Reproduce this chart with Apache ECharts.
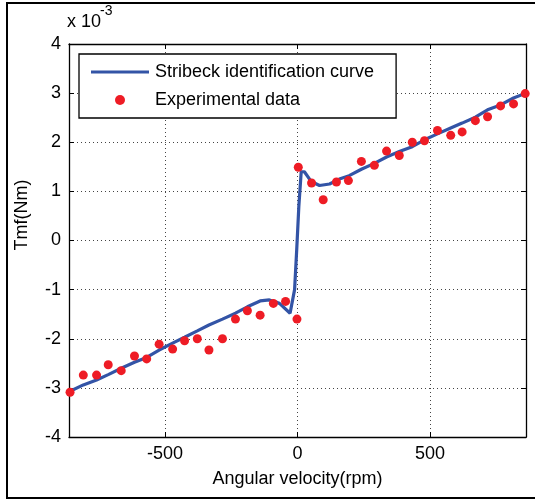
<!DOCTYPE html>
<html>
<head>
<meta charset="utf-8">
<script src="https://cdn.jsdelivr.net/npm/echarts@6/dist/echarts.min.js"></script>
<style>
html,body{margin:0;padding:0;background:#fff;}
#c{width:535px;height:502px;}
</style>
</head>
<body>
<div id="c"></div>
<script>
// Experimental data (angular velocity rpm, torque x1e-3 Nm)
var expX = [-858,-808,-758,-714,-665,-615,-569,-522,-471,-426,-378,-334,-283,-234,-189,-141,-91,-45,-2,
            3,53,97,147,192,241,290,336,384,433,479,528,578,621,671,717,766,815,859];
var expY = [-3.09,-2.74,-2.74,-2.53,-2.65,-2.35,-2.41,-2.11,-2.21,-2.04,-2.00,-2.23,-2.00,-1.60,-1.43,-1.52,-1.28,-1.24,-1.60,
            1.49,1.17,0.83,1.19,1.22,1.61,1.53,1.82,1.73,2.00,2.03,2.24,2.14,2.21,2.44,2.52,2.74,2.78,2.99];
// Stribeck identification curve
var curveX = [-862,-808,-758,-714,-665,-615,-569,-522,-471,-426,-378,-334,-283,-234,-189,-141,-106,-68,-28,-11,-3,5,14,26,52,83,121,158,195,241,290,336,384,433,479,528,578,621,671,717,766,815,862];
var curveY = [-3.08,-2.94,-2.84,-2.73,-2.60,-2.48,-2.38,-2.23,-2.09,-1.97,-1.84,-1.72,-1.60,-1.48,-1.35,-1.23,-1.21,-1.28,-1.48,-1.0,-0.19,0.69,1.40,1.40,1.20,1.12,1.15,1.25,1.32,1.45,1.57,1.70,1.81,1.91,2.05,2.17,2.29,2.39,2.51,2.66,2.76,2.90,3.00];
var xTicks = [-500, 0, 500];
var yMin = -4, yMax = 4;
var seriesNames = ['Stribeck identification curve', 'Experimental data'];

function zip(a, b) { return a.map(function (v, i) { return [v, b[i]]; }); }

var FONT = 'Liberation Sans, Arial, sans-serif';
var gridLine = { color: '#444', width: 1, type: [1, 3] };
var BLUE = '#3354A6', RED = '#EE1C25';

var chart = echarts.init(document.getElementById('c'), null, { renderer: 'canvas' });
chart.setOption({
  backgroundColor: '#fff',
  animation: false,
  grid: { left: 69, right: 9, top: 44, bottom: 65 },
  xAxis: [{
    type: 'value', min: -862, max: 862, position: 'bottom',
    axisLine: { show: true, onZero: false, lineStyle: { color: '#000', width: 1.3 } },
    axisTick: { show: true, inside: true, length: 5, customValues: xTicks, lineStyle: { color: '#000' } },
    axisLabel: { customValues: xTicks, fontSize: 18, color: '#000', margin: 8, fontFamily: FONT },
    splitLine: { show: true, lineStyle: gridLine },
    name: 'Angular velocity(rpm)', nameLocation: 'middle', nameGap: 33,
    nameTextStyle: { fontSize: 18, color: '#000', fontFamily: FONT }
  }, {
    type: 'value', min: -862, max: 862, position: 'top',
    axisLine: { show: true, onZero: false, lineStyle: { color: '#000', width: 1.3 } },
    axisTick: { show: true, inside: true, length: 5, customValues: xTicks, lineStyle: { color: '#000' } },
    axisLabel: { show: false, customValues: xTicks },
    splitLine: { show: false }
  }],
  yAxis: [{
    type: 'value', min: yMin, max: yMax, interval: 1, position: 'left',
    axisLine: { show: true, onZero: false, lineStyle: { color: '#000', width: 1.3 } },
    axisTick: { show: true, inside: true, length: 5, lineStyle: { color: '#000' } },
    axisLabel: { fontSize: 18, color: '#000', margin: 8, fontFamily: FONT },
    splitLine: { show: true, lineStyle: gridLine }
  }, {
    type: 'value', min: yMin, max: yMax, interval: 1, position: 'right',
    axisLine: { show: true, onZero: false, lineStyle: { color: '#000', width: 1.3 } },
    axisTick: { show: true, inside: true, length: 5, lineStyle: { color: '#000' } },
    axisLabel: { show: false },
    splitLine: { show: false }
  }],
  legend: {
    orient: 'vertical', left: 79, top: 54,
    padding: [9, 22, 9, 12],
    itemWidth: 58, itemHeight: 10, itemGap: 10,
    backgroundColor: '#fff', borderColor: '#000', borderWidth: 1.3, borderRadius: 0,
    textStyle: { fontSize: 18, color: '#000', fontFamily: FONT, padding: [0, 0, 0, 1] },
    data: [
      { name: seriesNames[0], icon: 'path://M0 0H60V3H0Z', itemStyle: { color: BLUE } },
      { name: seriesNames[1], icon: 'circle', itemStyle: { color: RED } }
    ]
  },
  series: [{
    name: seriesNames[0], type: 'line', data: zip(curveX, curveY),
    symbol: 'none', smooth: false,
    lineStyle: { color: BLUE, width: 3.2 }, itemStyle: { color: BLUE },
    z: 3
  }, {
    name: seriesNames[1], type: 'scatter', data: zip(expX, expY),
    symbol: 'circle', symbolSize: 9,
    itemStyle: { color: RED, opacity: 1 },
    z: 4
  }],
  graphic: [
    { type: 'rect', shape: { x: 7, y: 3, width: 560, height: 495 }, style: { fill: 'none', stroke: '#000', lineWidth: 2 }, silent: true, z: 100 },
    { type: 'text', x: 22, y: 215, rotation: Math.PI / 2, style: { text: 'Tmf(Nm)', fontSize: 18, fontFamily: FONT, fill: '#000', align: 'center', verticalAlign: 'middle' } },
    { type: 'text', x: 67, y: 22, style: { text: 'x 10', fontSize: 18, fontFamily: FONT, fill: '#000', align: 'left', verticalAlign: 'middle' } },
    { type: 'text', x: 100, y: 11, style: { text: '-3', fontSize: 14, fontFamily: FONT, fill: '#000', align: 'left', verticalAlign: 'middle' } }
  ]
});
</script>
</body>
</html>
